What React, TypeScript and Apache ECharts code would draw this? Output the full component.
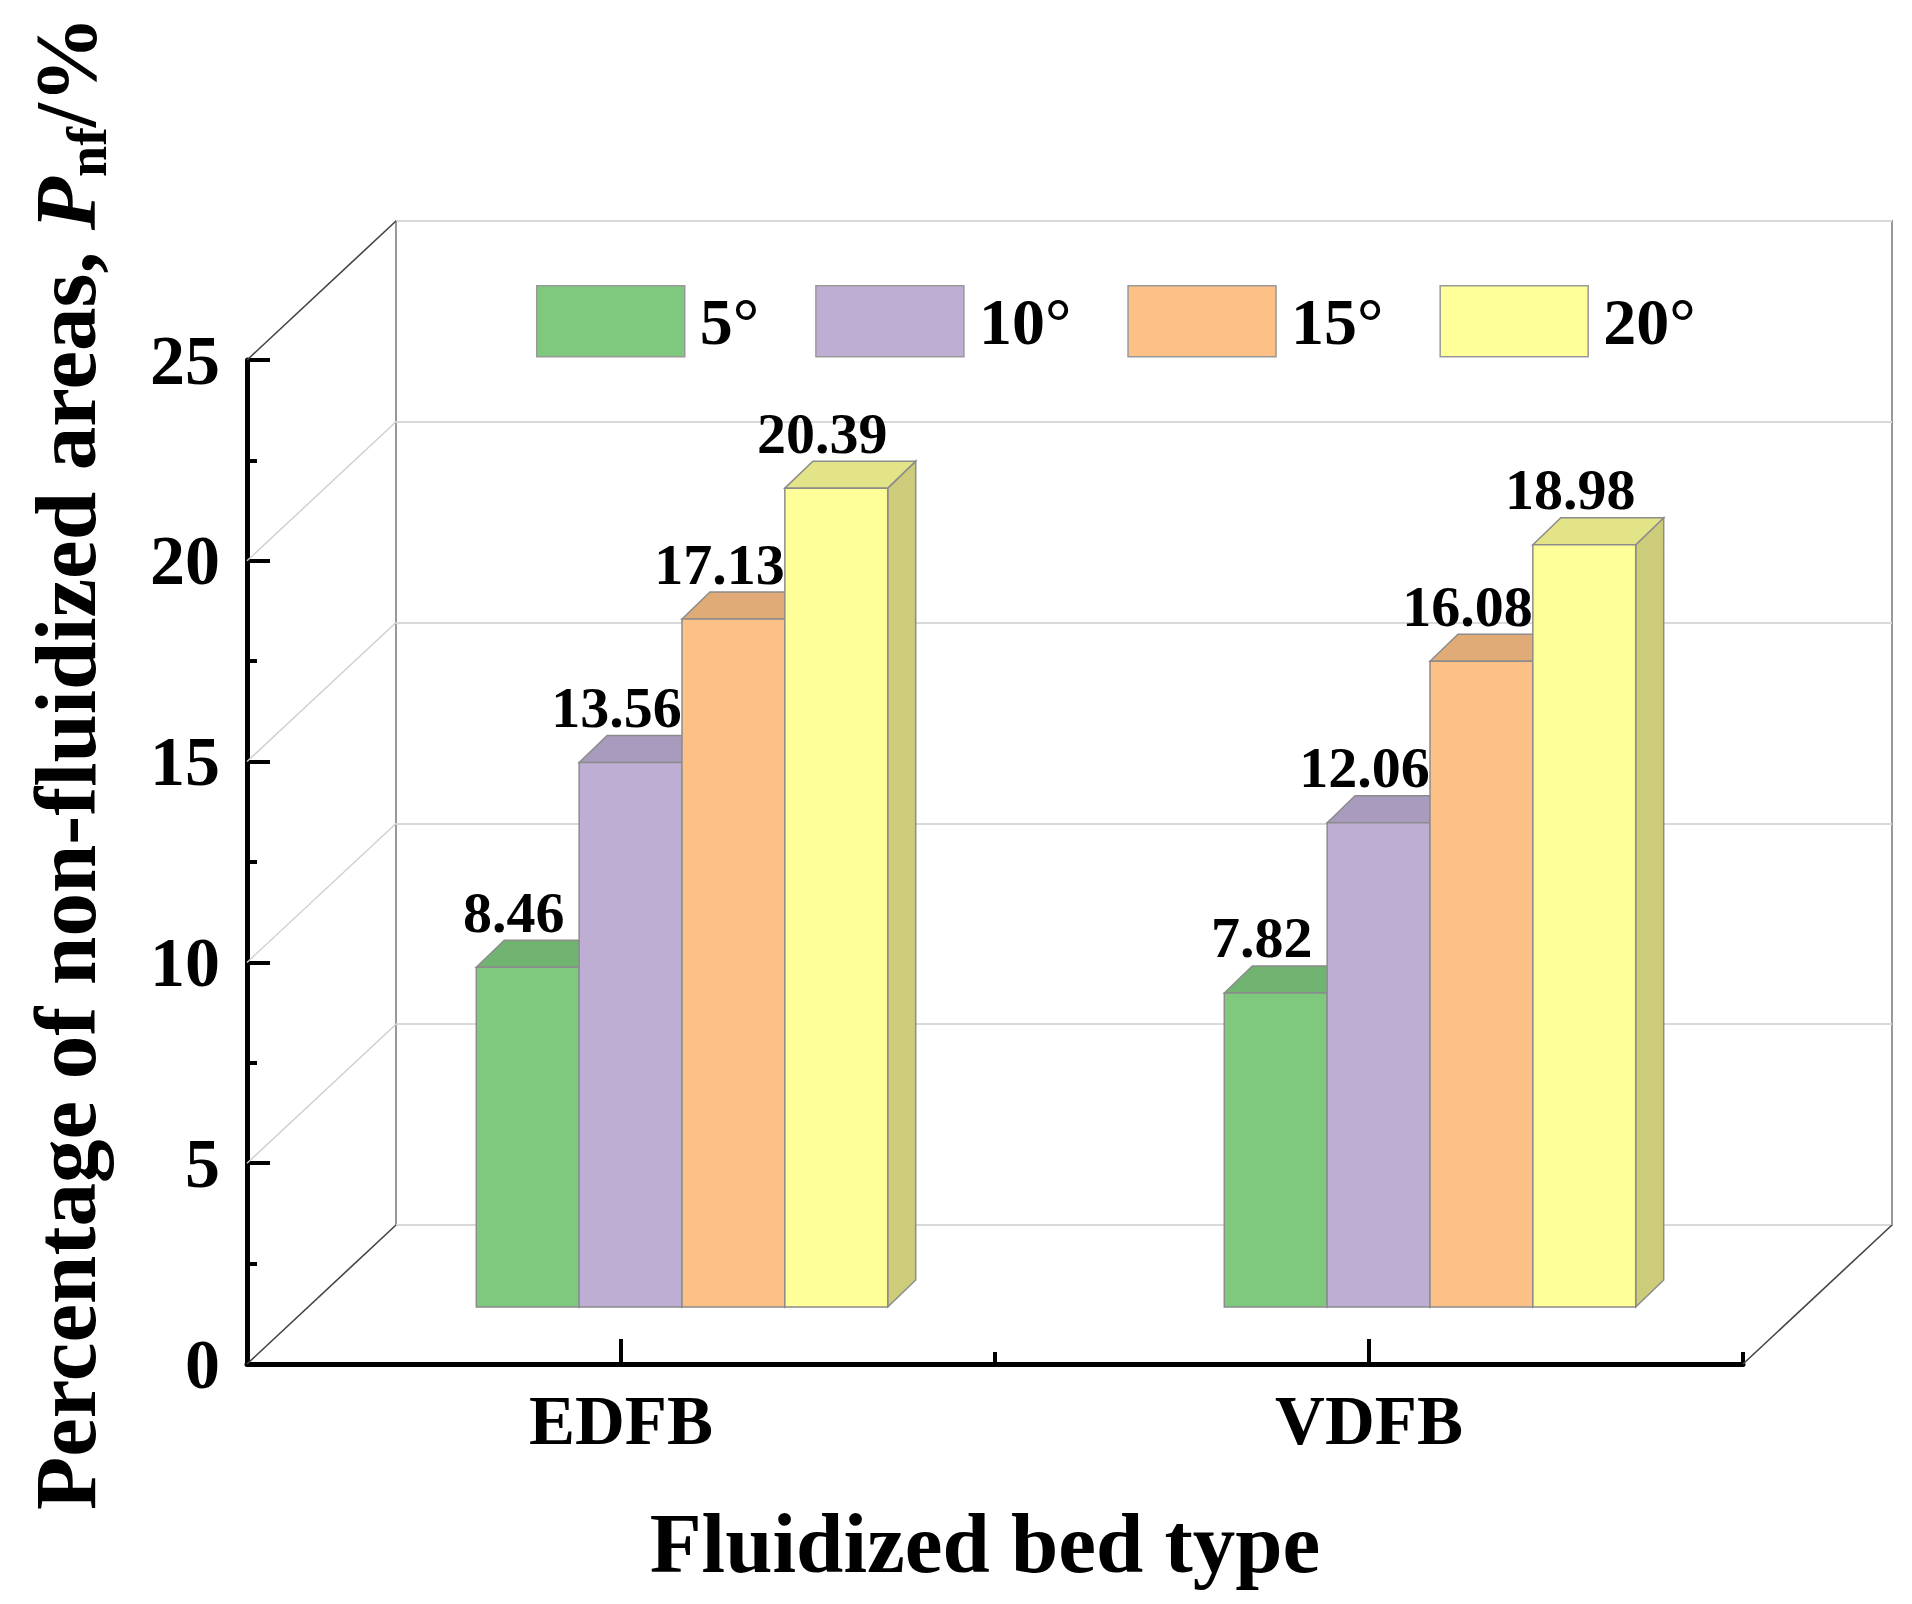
import React, { useEffect, useRef } from "react";
import * as echarts from "echarts";

// ---------- data ----------
const CATEGORIES = ["EDFB", "VDFB"];
const ANGLES = ["5°", "10°", "15°", "20°"];
const VALUES_5 = [8.46, 7.82];
const VALUES_10 = [13.56, 12.06];
const VALUES_15 = [17.13, 16.08];
const VALUES_20 = [20.39, 18.98];
const SERIES_VALUES = [VALUES_5, VALUES_10, VALUES_15, VALUES_20];
const Y_MIN = 0;
const Y_MAX = 25;
const Y_INTERVAL = 5;
// wall guide lines: [x value on front axis, y value, dark(1)/light(0)]
const WALL_LINES = [
  [0, 0, 1],
  [0, 5, 0],
  [0, 10, 0],
  [0, 15, 0],
  [0, 20, 0],
  [0, 25, 1],
  [4, 0, 1],
];

// ---------- style / layout ----------
const COLORS = ["#7FC97F", "#BEAED4", "#FDC086", "#FFFF99"];
const FONT = "'Liberation Serif', 'Times New Roman', Times, serif";
const FRONT = { left: 247, top: 360, width: 1496, height: 1004 };
const DEPTH_X = 149; // back wall offset
const DEPTH_Y = 139;
const BAR_PLANE_X = 61; // bar plane offset
const BAR_PLANE_Y = 57;
const BAR_DEPTH_X = 28;
const BAR_DEPTH_Y = 27;
const BAR_GROUP_RATIO = 0.55;
const EDGE = "#8c8c8c";

function shade(hex: string, f: number) {
  const n = parseInt(hex.slice(1), 16);
  const r = Math.round(((n >> 16) & 255) * f);
  const g = Math.round(((n >> 8) & 255) * f);
  const b = Math.round((n & 255) * f);
  return `rgb(${r},${g},${b})`;
}

function makeBarRender(idx: number) {
  return (params: any, api: any) => {
    const cat = api.value(0);
    const v = api.value(1);
    const top = api.coord([cat, v]);
    const base = api.coord([cat, 0]);
    const band = api.size([1, 0])[0];
    const w = (band * BAR_GROUP_RATIO) / ANGLES.length;
    const cx = top[0] + (idx - (ANGLES.length - 1) / 2) * w;
    const x0 = cx - w / 2;
    const x1 = cx + w / 2;
    const yT = top[1];
    const yB = base[1];
    const color = COLORS[idx];
    return {
      type: "group",
      children: [
        {
          type: "polygon",
          shape: {
            points: [
              [x1, yT],
              [x1 + BAR_DEPTH_X, yT - BAR_DEPTH_Y],
              [x1 + BAR_DEPTH_X, yB - BAR_DEPTH_Y],
              [x1, yB],
            ],
          },
          style: { fill: shade(color, 0.8), stroke: EDGE, lineWidth: 1.5 },
        },
        {
          type: "polygon",
          shape: {
            points: [
              [x0, yT],
              [x0 + BAR_DEPTH_X, yT - BAR_DEPTH_Y],
              [x1 + BAR_DEPTH_X, yT - BAR_DEPTH_Y],
              [x1, yT],
            ],
          },
          style: { fill: shade(color, 0.89), stroke: EDGE, lineWidth: 1.5 },
        },
        {
          type: "rect",
          shape: { x: x0, y: yT, width: w, height: yB - yT },
          style: { fill: color, stroke: EDGE, lineWidth: 1.5 },
        },
        {
          type: "text",
          x: cx - 14,
          y: yT - 26,
          style: {
            text: v.toFixed(2),
            fill: "#000",
            fontSize: 58,
            fontWeight: "bold",
            fontFamily: FONT,
            align: "center",
            verticalAlign: "bottom",
          },
        },
      ],
    };
  };
}

function wallRender(params: any, api: any) {
  const p = api.coord([api.value(0), api.value(1)]);
  const dark = api.value(2) === 1;
  return {
    type: "line",
    shape: { x1: p[0], y1: p[1], x2: p[0] + DEPTH_X, y2: p[1] - DEPTH_Y },
    style: {
      stroke: dark ? "#444" : "#cfcfcf",
      lineWidth: dark ? 1.6 : 1.4,
    },
  };
}

export default function App() {
  const ref = useRef<HTMLDivElement>(null);
  useEffect(() => {
    if (!ref.current) return;
    const chart = echarts.init(ref.current, undefined, { renderer: "svg" });
    const boldText = { fontFamily: FONT, fontWeight: "bold", color: "#000" };
    const option: any = {
      animation: false,
      backgroundColor: "#fff",
      grid: [
        { ...FRONT },
        {
          left: FRONT.left + DEPTH_X,
          top: FRONT.top - DEPTH_Y,
          width: FRONT.width,
          height: FRONT.height,
          show: true,
          borderColor: "#999",
          borderWidth: 2,
        },
        {
          left: FRONT.left + BAR_PLANE_X,
          top: FRONT.top - BAR_PLANE_Y,
          width: FRONT.width,
          height: FRONT.height,
        },
      ],
      legend: {
        data: ANGLES,
        left: 531,
        top: 280,
        itemWidth: 148,
        itemHeight: 71,
        itemGap: 56,
        icon: "rect",
        selectedMode: false,
        itemStyle: { borderColor: "#999", borderWidth: 1.5 },
        textStyle: { ...boldText, fontSize: 66, padding: [0, 0, 0, 10] },
      },
      xAxis: [
        {
          gridIndex: 0,
          type: "value",
          min: 0,
          max: 4,
          interval: 2,
          position: "bottom",
          axisLine: { onZero: false, lineStyle: { color: "#000", width: 5 } },
          axisTick: { inside: true, length: 12, lineStyle: { color: "#000", width: 4 } },
          axisLabel: { show: false },
          splitLine: { show: false },
        },
        {
          gridIndex: 0,
          type: "category",
          data: CATEGORIES,
          position: "bottom",
          axisLine: { show: false },
          axisTick: {
            show: true,
            inside: true,
            alignWithLabel: true,
            length: 25,
            lineStyle: { color: "#000", width: 4 },
          },
          axisLabel: { ...boldText, fontSize: 69, margin: 22 },
          name: "Fluidized bed type",
          nameLocation: "middle",
          nameGap: 136,
          nameTextStyle: { ...boldText, fontSize: 85, padding: [0, 20, 0, 0] },
        },
        { gridIndex: 1, type: "value", min: 0, max: 4, show: false },
        { gridIndex: 2, type: "category", data: CATEGORIES, show: false },
      ],
      yAxis: [
        {
          gridIndex: 0,
          type: "value",
          min: Y_MIN,
          max: Y_MAX,
          interval: Y_INTERVAL,
          axisLine: { show: true, onZero: false, lineStyle: { color: "#000", width: 5 } },
          axisTick: { show: true, inside: true, length: 23, lineStyle: { color: "#000", width: 4 } },
          minorTick: { show: true, splitNumber: 2, length: 10, lineStyle: { color: "#000", width: 4 } },
          axisLabel: { ...boldText, fontSize: 70, margin: 27 },
          splitLine: { show: false },
        },
        {
          gridIndex: 1,
          type: "value",
          min: Y_MIN,
          max: Y_MAX,
          interval: Y_INTERVAL,
          axisLine: { show: false },
          axisTick: { show: false },
          axisLabel: { show: false },
          splitLine: { show: true, lineStyle: { color: "#d9d9d9", width: 2 } },
        },
        { gridIndex: 2, type: "value", min: Y_MIN, max: Y_MAX, show: false },
      ],
      graphic: [
        {
          type: "text",
          x: 65,
          y: 763,
          rotation: Math.PI / 2,
          style: {
            text: "{a|Percentage of non-fluidized areas, }{p|P}{s|nf}{a|/%}",
            align: "center",
            verticalAlign: "middle",
            fill: "#000",
            rich: {
              a: { fontFamily: FONT, fontWeight: "bold", fontSize: 87, lineHeight: 100, fill: "#000" },
              p: {
                fontFamily: FONT,
                fontWeight: "bold",
                fontStyle: "italic",
                fontSize: 87,
                lineHeight: 100,
                fill: "#000",
              },
              s: {
                fontFamily: FONT,
                fontWeight: "bold",
                fontSize: 56,
                lineHeight: 56,
                verticalAlign: "bottom",
                fill: "#000",
              },
            },
          },
        },
      ],
      series: [
        {
          type: "custom",
          xAxisIndex: 0,
          yAxisIndex: 0,
          z: 1,
          silent: true,
          renderItem: wallRender,
          data: WALL_LINES,
        },
        ...ANGLES.map((name, i) => ({
          type: "custom",
          name,
          xAxisIndex: 3,
          yAxisIndex: 2,
          z: 3 + i,
          itemStyle: { color: COLORS[i], borderColor: "#999", borderWidth: 1.5 },
          renderItem: makeBarRender(i),
          data: SERIES_VALUES[i].map((v, c) => [c, v]),
        })),
      ],
    };
    chart.setOption(option);
    return () => chart.dispose();
  }, []);
  return (
    <div
      ref={ref}
      style={{ position: "absolute", left: 0, top: 0, width: 1912, height: 1604 }}
    />
  );
}
